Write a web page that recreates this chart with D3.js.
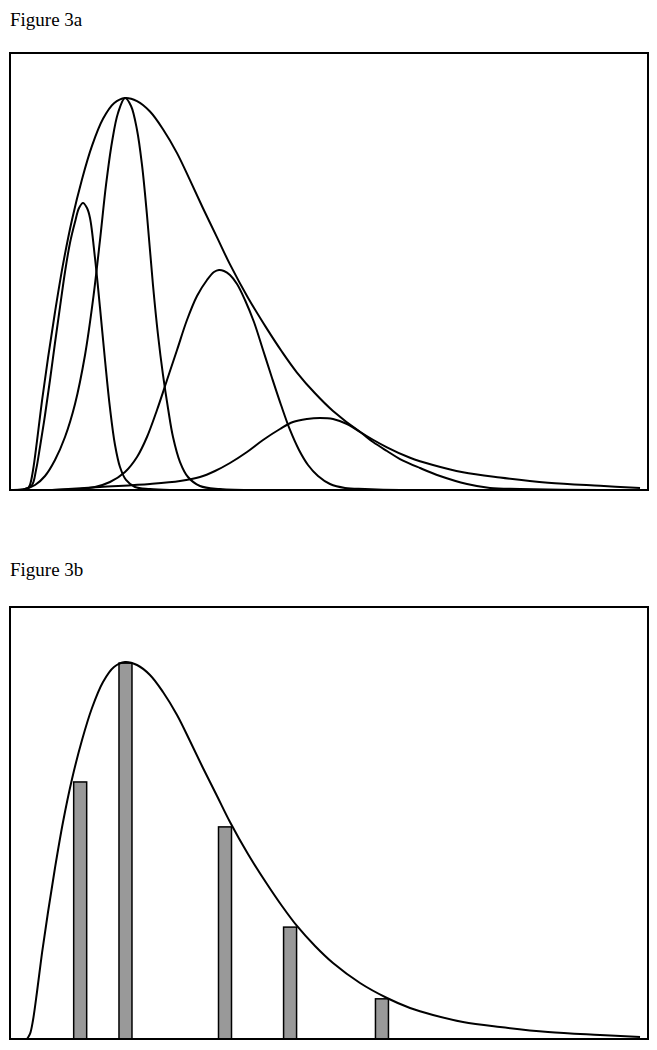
<!DOCTYPE html>
<html lang="en">
<head>
<meta charset="UTF-8">
<title>Figure 3a / 3b</title>
<script src="https://cdnjs.cloudflare.com/ajax/libs/d3/7.8.5/d3.min.js"></script>
<style>
    body { margin: 0; background: #fff; }
    svg { display: block; }
    .title { font-family: "Liberation Serif", "Times New Roman", serif; font-size: 19px; fill: #000; }
    .frame { fill: none; stroke: #000; stroke-width: 2; }
    .curve { fill: none; stroke: #000; stroke-width: 2; }
    .bar { fill: #999; stroke: #000; stroke-width: 1.5; }
</style>
</head>
<body>
<div id="chart"></div>
<script>
// overall envelope (x 0-100 across the box, y in % of box height)
const envelope = [
    [2.66, 0], [3.13, 1.16], [3.61, 4.40], [4.23, 10.88], [5.02, 19.91], [5.96, 29.40],
    [7.05, 39.58], [8.31, 50.23], [9.72, 60.19], [11.29, 69.21], [12.85, 76.62],
    [14.58, 82.64], [16.30, 86.11], [18.03, 87.27], [19.91, 86.57], [21.94, 84.26],
    [23.98, 80.32], [26.18, 75.00], [28.21, 68.98], [30.25, 62.73], [32.45, 56.25],
    [34.48, 50.23], [37.30, 42.82], [40.28, 35.88], [42.63, 30.79], [44.98, 26.16],
    [47.81, 21.53], [50.63, 17.59], [54.86, 12.96], [59.09, 9.49], [62.70, 7.18],
    [66.30, 5.56], [71.00, 3.94], [76.80, 2.78], [84.33, 1.62], [92.48, 0.93], [98.75, 0.46]
];

// component peaks of figure 3a
const peak1 = [
    [0.47, 0], [2.35, 0.22], [3.45, 1.11], [4.08, 4.45], [4.70, 9.57], [5.49, 16.70],
    [6.27, 24.49], [7.05, 32.73], [7.84, 40.75], [8.62, 48.54], [9.40, 55.00],
    [10.19, 59.67], [10.82, 62.79], [11.44, 63.91], [12.07, 62.79], [12.54, 60.57],
    [13.32, 51.66], [14.11, 40.53], [14.89, 28.95], [15.67, 18.26], [16.46, 10.02],
    [17.24, 5.12], [18.18, 2.23], [19.59, 0.67], [21.94, 0.22], [25.08, 0]
];
const peak2 = [
    [0.47, 0], [2.35, 0.22], [3.92, 1.11], [5.49, 3.12], [7.05, 6.68], [8.62, 11.80],
    [10.19, 19.15], [11.76, 30.06], [13.01, 42.31], [14.11, 55.67], [15.05, 67.91],
    [15.99, 77.49], [16.93, 83.95], [18.03, 87.29], [18.97, 85.51], [19.91, 80.16],
    [20.69, 72.37], [21.47, 61.23], [22.41, 45.65], [23.20, 34.51], [23.98, 25.61],
    [24.76, 18.26], [25.55, 11.80], [26.65, 6.23], [27.90, 2.89], [29.78, 0.89],
    [32.92, 0.22], [39.18, 0]
];
const peak3 = [
    [6.58, 0], [10.97, 0.22], [13.32, 0.67], [15.67, 1.78], [18.03, 4.01], [19.91, 7.35],
    [21.47, 11.80], [23.04, 17.81], [24.61, 24.49], [26.18, 31.17], [27.74, 37.85],
    [29.31, 43.20], [30.88, 46.76], [31.97, 48.54], [32.76, 48.99], [33.54, 48.76],
    [34.48, 47.87], [35.58, 45.87], [36.83, 42.31], [38.24, 37.41], [39.66, 31.17],
    [41.07, 24.94], [42.48, 18.93], [43.89, 13.36], [45.30, 8.91], [46.71, 5.57],
    [48.28, 3.12], [50.16, 1.34], [52.51, 0.45], [55.64, 0.22], [61.13, 0], [65.83, 0]
];
const peak4 = [
    [6.58, 0], [14.11, 0.67], [21.94, 1.34], [26.65, 2.00], [29.78, 2.89], [32.13, 4.23],
    [34.48, 6.01], [37.15, 8.46], [39.66, 11.13], [42.32, 13.58], [44.36, 15.14],
    [46.55, 15.81], [48.59, 16.03], [50.63, 15.81], [52.82, 14.70], [54.86, 12.91],
    [56.90, 10.69], [59.09, 8.68], [61.13, 6.90], [64.26, 4.90], [67.40, 3.12],
    [71.63, 1.34], [75.24, 0.45], [79.94, 0.22], [92.48, 0], [98.75, 0]
];
const peaks = [peak1, peak2, peak3, peak4];

// bars of figure 3b
const barX = [11.0, 18.1, 33.7, 43.9, 58.3];
const barHeight = [59.5, 87.0, 49.1, 25.9, 9.3];

const titles = ["Figure 3a", "Figure 3b"];

const width = 657, height = 1050;
const boxLeft = 10, boxRight = 648;
const panels = [
    { title: titles[0], titleY: 26, top: 53, bottom: 490, yMax: 97.3 },
    { title: titles[1], titleY: 576, top: 607, bottom: 1039, yMax: 100 }
];
const barWidth = 13;

const svg = d3.select("#chart").append("svg")
    .attr("width", width)
    .attr("height", height);

const x = d3.scaleLinear().domain([0, 100]).range([boxLeft, boxRight]);

panels.forEach((p, i) => {
    const y = d3.scaleLinear().domain([0, p.yMax]).range([p.bottom, p.top]);
    const line = d3.line()
        .x(d => x(d[0]))
        .y(d => y(d[1]))
        .curve(d3.curveCatmullRom.alpha(0.5));

    svg.append("text")
        .attr("class", "title")
        .attr("x", boxLeft)
        .attr("y", p.titleY)
        .text(p.title);

    // keep curves inside the box
    svg.append("clipPath")
        .attr("id", "clip" + i)
        .append("rect")
        .attr("x", boxLeft)
        .attr("y", p.top)
        .attr("width", boxRight - boxLeft)
        .attr("height", p.bottom - p.top);

    const g = svg.append("g").attr("clip-path", `url(#clip${i})`);

    if (i === 0) {
        g.selectAll("path.peak")
            .data(peaks)
            .join("path")
            .attr("class", "curve peak")
            .attr("d", line);
    } else {
        g.selectAll("rect.bar")
            .data(barX)
            .join("rect")
            .attr("class", "bar")
            .attr("x", d => x(d) - barWidth / 2)
            .attr("width", barWidth)
            .attr("y", (d, j) => y(barHeight[j]))
            .attr("height", (d, j) => y(0) - y(barHeight[j]));
    }

    g.append("path")
        .attr("class", "curve")
        .attr("d", line(envelope));

    svg.append("rect")
        .attr("class", "frame")
        .attr("x", boxLeft)
        .attr("y", p.top)
        .attr("width", boxRight - boxLeft)
        .attr("height", p.bottom - p.top);
});
</script>
</body>
</html>
